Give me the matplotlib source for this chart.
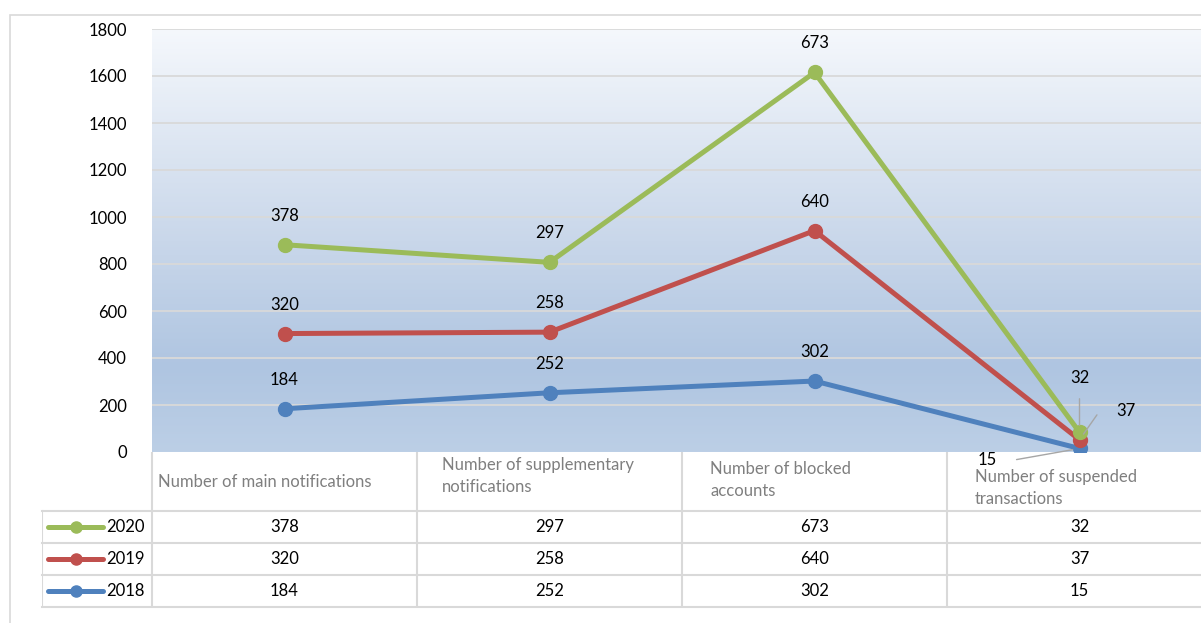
import numpy as np
import matplotlib
matplotlib.use("Agg")
import matplotlib.pyplot as plt
from matplotlib.colors import LinearSegmentedColormap
from matplotlib.patches import Rectangle

plt.rcParams['font.family'] = ['Lato', 'DejaVu Sans']

categories = ["Number of main notifications",
              "Number of supplementary\nnotifications",
              "Number of blocked\naccounts",
              "Number of suspended\ntransactions"]
years = ["2018", "2019", "2020"]
values_2018 = [184, 252, 302, 15]
values_2019 = [320, 258, 640, 37]
values_2020 = [378, 297, 673, 32]
yticks = [0, 200, 400, 600, 800, 1000, 1200, 1400, 1600, 1800]

series = [values_2018, values_2019, values_2020]
colors = ["#4f81bd", "#c0504d", "#9bbb59"]
FS = 12

W, H = 1201, 623
fig = plt.figure(figsize=(W / 100, H / 100), dpi=100)

def fx(px):
    return px / W

def fy(py):
    return 1 - py / H

# outer chart frame (left and top edges visible)
fig.patches.append(Rectangle((fx(10), fy(700)), fx(1300), fy(15) - fy(700),
                             transform=fig.transFigure, fill=False,
                             edgecolor="#d9d9d9", linewidth=1.2))

# plot area: one category = 265 px, extends past the right edge
ax = fig.add_axes([fx(152), fy(452), fx(1212 - 152), fy(29) - fy(452)])
x = np.arange(len(categories))
ax.set_xlim(-0.5, 3.5)
ax.set_ylim(0, 1800)

grad = LinearSegmentedColormap.from_list(
    "bg", [(0.0, "#bccfe6"), (0.2, "#afc5e1"), (0.5, "#c9d7ea"), (1.0, "#f5f8fc")])
ax.imshow(np.linspace(0, 1, 256).reshape(-1, 1), cmap=grad, origin="lower",
          extent=(-0.5, 3.5, 0, 1800), aspect="auto", zorder=0)
for t in yticks[1:]:
    ax.axhline(t, color="#d9d9d9", linewidth=1.3, zorder=1)

for s in ax.spines.values():
    s.set_visible(False)
ax.set_xticks([])
ax.set_yticks(yticks)
ax.set_yticklabels([str(t) for t in yticks], fontsize=FS)
ax.tick_params(axis="y", length=0, pad=18)

# stacked lines
cum = np.cumsum(np.array(series), axis=0)
for i in range(len(series)):
    ax.plot(x, cum[i], color=colors[i], linewidth=3.6, marker="o",
            markersize=10, zorder=3 + i, solid_capstyle="round")

# data labels (individual values above stacked points)
for i in range(len(series)):
    for j in range(len(categories) - 1):
        ax.annotate(str(series[i][j]), (x[j], cum[i][j]),
                    xytext=(0, 29), textcoords="offset pixels",
                    ha="center", va="center", fontsize=FS, zorder=10)

# labels for the crowded last category, with leader lines
last = len(categories) - 1
lead = dict(arrowstyle="-", color="#a6a6a6", linewidth=1.0,
            shrinkA=7, shrinkB=5)
ax.annotate(str(series[2][last]), (x[last], cum[2][last]),
            xytext=(0, 54), textcoords="offset pixels",
            ha="center", va="center", fontsize=FS, arrowprops=lead, zorder=10)
ax.annotate(str(series[1][last]), (x[last], cum[1][last]),
            xytext=(46, 29), textcoords="offset pixels",
            ha="center", va="center", fontsize=FS,
            arrowprops=dict(lead, connectionstyle="angle,angleA=0,angleB=55,rad=0",
                            shrinkA=12),
            zorder=10)
ax.annotate(str(series[0][last]), (x[last], cum[0][last]),
            xytext=(-92, -12), textcoords="offset pixels",
            ha="center", va="center", fontsize=FS,
            arrowprops=dict(lead, connectionstyle="angle,angleA=0,angleB=-170,rad=0",
                            shrinkA=12),
            zorder=10, annotation_clip=False)

# data table below the plot area
tab = fig.add_axes([fx(42), fy(607), fx(1212 - 42), fy(452) - fy(607)])
tab.set_xlim(-0.5 - 110 / 265, 3.5)
tab.set_ylim(607, 452)
tab.axis("off")
gc = "#d9d9d9"
left = -0.5 - 110 / 265
for yy in [511, 543, 575, 607]:
    tab.plot([left, 3.5], [yy, yy], color=gc, linewidth=1.5, clip_on=False)
tab.plot([left, left], [511, 607], color=gc, linewidth=1.5)
for b in [-0.5, 0.5, 1.5, 2.5]:
    tab.plot([b, b], [452, 607], color=gc, linewidth=1.5)

header_dx = [0.023, 0.094, 0.106, 0.106]
header_y = [482, 476, 480, 488]
for j, name in enumerate(categories):
    tab.text(j - 0.5 + header_dx[j], header_y[j], name, ha="left", va="center",
             fontsize=FS, color="#7f7f7f", linespacing=1.45)

row_y = {"2020": 527, "2019": 559, "2018": 591}
for i in range(len(series)):
    yy = row_y[years[i]]
    for j in range(len(categories)):
        tab.text(x[j], yy, str(series[i][j]), ha="center", va="center",
                 fontsize=FS)
    tab.plot([left + 6 / 265, left + 61 / 265], [yy, yy], color=colors[i],
             linewidth=3.6, solid_capstyle="round")
    tab.plot([left + 34 / 265], [yy], "o", color=colors[i], markersize=8)
    tab.text(-0.5 - 7 / 265, yy, years[i], ha="right", va="center",
             fontsize=FS)

fig.savefig("out.png", dpi=100)
